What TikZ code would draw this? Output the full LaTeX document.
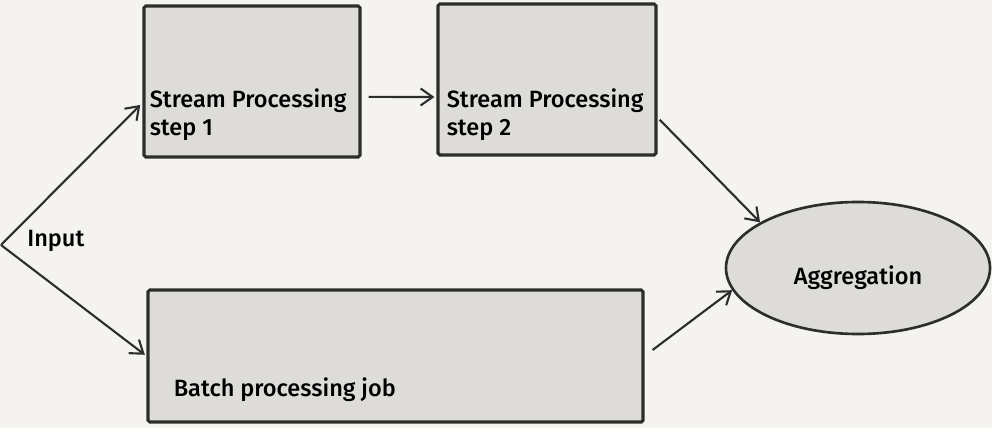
\documentclass[tikz,border=0pt]{standalone}
\usepackage{fontspec}
\setmainfont{Fira Sans}[UprightFont={* Medium}]
\usetikzlibrary{positioning}
\usetikzlibrary{calc}
\usetikzlibrary{arrows.meta}
\usetikzlibrary{shapes.geometric}
\definecolor{paper}{RGB}{244,243,239}
\definecolor{boxfill}{RGB}{221,220,216}
\definecolor{ink}{RGB}{45,45,45}

\begin{document}
\begin{tikzpicture}[x=0.2mm, y=-0.2mm, >={Straight Barb[length=2.4mm, width=3.4mm]},
    box/.style={rectangle, draw=ink, line width=1.8pt, fill=boxfill, rounded corners=1pt, inner sep=0pt},
    oval/.style={ellipse, draw=ink, line width=1.5pt, fill=boxfill, inner sep=0pt, minimum width=52.8mm, minimum height=26.4mm},
    txt/.style={font=\fontsize{13.4}{16}\selectfont, align=left, inner sep=0pt, anchor=west, text=black},
    arr/.style={->, line width=1.2pt, draw=ink}]

    % Paper
    \fill[paper] (0,0) rectangle (992,428);
    \useasboundingbox (0,0) rectangle (992,428);

    % Stream processing steps
    \node[box, minimum width=43.2mm, minimum height=30.2mm] (s1) at (252,81.5) {};
    \node[txt] (s1txt) at ([xshift=1.4mm, yshift=-6.7mm]s1.west) {Stream Processing\\step 1};
    \node[box, minimum width=43.6mm, minimum height=30.2mm] (s2) at (547,79.5) {};
    \node[txt] (s2txt) at ([xshift=2mm, yshift=-7.1mm]s2.west) {Stream Processing\\step 2};

    % Batch job
    \node[box, minimum width=99mm, minimum height=26.4mm] (b) at (395.5,356) {};
    \node[txt] (btxt) at ([xshift=5.4mm, yshift=-6.8mm]b.west) {Batch processing job};

    % Aggregation
    \node[oval] (agg) at (858,268) {};
    \node[txt, anchor=center] (aggtxt) at ([yshift=-2mm]agg.center) {Aggregation};

    % Input
    \coordinate (in) at (1,245);
    \node[txt] (intxt) at (27,241) {Input};

    \draw[arr, shorten >=0.6mm] (in) -- (s1.191);
    \draw[arr, shorten >=0.4mm] (in) -- (b.west);
    \draw[arr, shorten <=1.4mm, shorten >=0.4mm] (s1.-8) -- (s2.189);
    \draw[arr, shorten <=0.6mm] (s2.-19) -- (agg.155);
    \draw[arr, shorten <=2mm] (b.east) -- (agg.190);
\end{tikzpicture}
\end{document}
